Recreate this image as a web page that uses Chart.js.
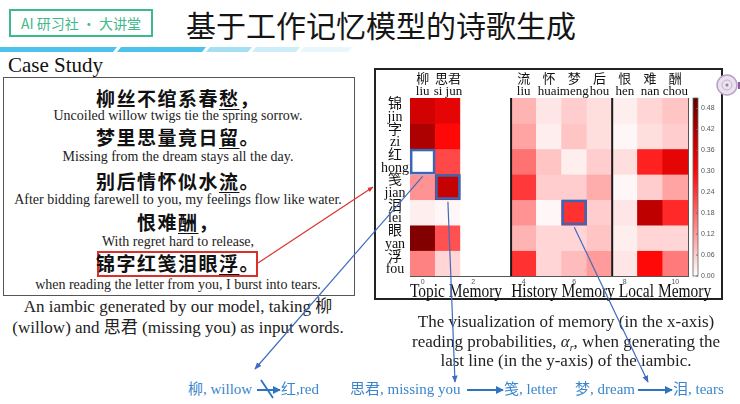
<!DOCTYPE html>
<html lang="zh">
<head>
<meta charset="UTF-8">
<title>基于工作记忆模型的诗歌生成</title>
<script src="https://cdn.jsdelivr.net/npm/chart.js"></script>
<style>
  body { margin: 0; }
  #slide { position: relative; width: 740px; height: 404px; background: #fff; overflow: hidden;
           font-family: 'Liberation Serif', 'Noto Sans CJK SC', serif; color: #222; }
  .c { position: absolute; width: 440px; text-align: center; white-space: nowrap; }
  .l { position: absolute; white-space: nowrap; }
  .cn { font: 700 19px/22px 'Noto Sans CJK SC', sans-serif; letter-spacing: 1.5px; color: #111; }
  .en { font-size: 14px; line-height: 16px; }
  .cap { font-size: 17px; line-height: 19px; }
  .blue { font-size: 15px; line-height: 18px; color: #3a86cc; }
  .grp { font-size: 18px; line-height: 20px; transform: scaleX(0.86); color: #111; }
  u { text-decoration-thickness: 1px; text-underline-offset: 3px; }
  #heat { position: absolute; left: 376px; top: 70px; }
  svg { position: absolute; left: 0; top: 0; }
</style>
</head>
<body>
<div id="slide">
  <!-- header -->
  <div class="l" style="left:9px;top:9px;width:144px;height:28px;box-sizing:border-box;border:2px solid #3fb88c;
       font:14px/24px 'Noto Sans CJK SC',sans-serif;color:#3fb88c;text-align:center;">AI 研习社 · 大讲堂</div>
  <div class="l" style="left:186px;top:4px;font:30px/40px 'Noto Sans CJK SC',sans-serif;color:#151515;">基于工作记忆模型的诗歌生成</div>
  <div class="l" style="left:8px;top:54px;font-size:21px;line-height:22px;color:#111;">Case Study</div>

  <!-- poem box -->
  <div class="l" style="left:3px;top:77px;width:352px;height:219px;box-sizing:border-box;border:1.5px solid #555;"></div>
  <div class="c cn" style="left:-42px;top:87px;">柳丝不绾系春<u>愁</u>，</div>
  <div class="c en" style="left:-42px;top:108px;">Uncoiled willow twigs tie the spring sorrow.</div>
  <div class="c cn" style="left:-42px;top:126px;">梦里思量竟日<u>留</u>。</div>
  <div class="c en" style="left:-42px;top:149px;">Missing from the dream stays all the day.</div>
  <div class="c cn" style="left:-42px;top:170px;">别后情怀似水<u>流</u>。</div>
  <div class="c en" style="left:-42px;top:192px;">After bidding farewell to you, my feelings flow like water.</div>
  <div class="c cn" style="left:-42px;top:211px;">恨难<u>酬</u>，</div>
  <div class="c en" style="left:-42px;top:234px;">With regret hard to release,</div>
  <div class="l" style="left:97px;top:251px;width:161px;height:26px;box-sizing:border-box;border:2px solid #d9302c;"></div>
  <div class="c cn" style="left:-42px;top:252px;">锦字红笺泪眼<u>浮</u>。</div>
  <div class="c en" style="left:-42px;top:277px;">when reading the letter from you, I burst into tears.</div>
  <div class="c cap" style="left:-42px;top:297px;">An iambic generated by our model, taking 柳</div>
  <div class="c cap" style="left:-42px;top:318px;">(willow) and 思君 (missing you) as input words.</div>

  <!-- heatmap box -->
  <div class="l" style="left:374px;top:68px;width:349px;height:232px;box-sizing:border-box;border:2px solid #222;"></div>
  <canvas id="heat" width="346" height="229"></canvas>
  <div class="c grp" style="left:236px;top:281px;">Topic Memory</div>
  <div class="c grp" style="left:343px;top:281px;">History Memory</div>
  <div class="c grp" style="left:445px;top:281px;">Local Memory</div>

  <div class="c cap" style="left:346px;top:312px;">The visualization of memory (in the x-axis)</div>
  <div class="c cap" style="left:346px;top:332px;">reading probabilities, <i>α<sub style="font-size:10px">r</sub></i>, when generating the</div>
  <div class="c cap" style="left:346px;top:351px;">last line (in the y-axis) of the iambic.</div>

  <div class="l blue" style="left:188px;top:380px;">柳, willow</div>
  <div class="l blue" style="left:281px;top:380px;">红,red</div>
  <div class="l blue" style="left:350px;top:380px;">思君, missing you</div>
  <div class="l blue" style="left:504px;top:380px;">笺, letter</div>
  <div class="l blue" style="left:575px;top:380px;">梦, dream</div>
  <div class="l blue" style="left:673px;top:380px;">泪, tears</div>

  <svg width="740" height="404">
    <defs>
      <marker id="ab" viewBox="0 0 10 10" refX="9" refY="5" markerWidth="6" markerHeight="6" orient="auto">
        <path d="M0,1 L10,5 L0,9 z" fill="#3f6cc0"/>
      </marker>
      <marker id="ab2" viewBox="0 0 10 10" refX="9" refY="5" markerWidth="4" markerHeight="4" orient="auto">
        <path d="M0,0 L10,5 L0,10 z" fill="#2e74c0"/>
      </marker>
      <marker id="ar" viewBox="0 0 10 10" refX="9" refY="5" markerWidth="5" markerHeight="5" orient="auto">
        <path d="M0,1 L10,5 L0,9 z" fill="#e03030"/>
      </marker>
    </defs>
    <!-- stripe -->
    <polygon points="0,47 117,47 113,52 0,52" fill="#4cc2ec"/>
    <polygon points="121,47 206,47 202,52 117,52" fill="#4cc2ec"/>
    <polygon points="210,47 252,47 248,52 206,52" fill="#a6def4"/>
    <polygon points="256,47 300,47 296,52 252,52" fill="#cdeef9"/>
    <polygon points="304,47 352,47 348,52 300,52" fill="#e8f7fc"/>
    <!-- logo -->
    <circle cx="727" cy="85" r="10" fill="#ece2ee" stroke="#b9a2c4" stroke-width="1.5"/>
    <circle cx="727" cy="85" r="5" fill="none" stroke="#c4b0cc" stroke-width="1"/>
    <circle cx="727" cy="85" r="1.5" fill="#9a7aa8"/>
    <rect x="738" y="82" width="2" height="7" fill="#8a5aa0"/>
    <!-- connectors -->
    <line id="redLink" x1="258" y1="263" x2="373" y2="188" stroke="#e03030" stroke-width="1.2" marker-end="url(#ar)"/>
    <line id="link0" x1="423" y1="177" x2="255" y2="369" stroke="#3f6cc0" stroke-width="1.2" marker-end="url(#ab)"/>
    <line id="link1" x1="449" y1="200" x2="455" y2="382" stroke="#3f6cc0" stroke-width="1.2" marker-end="url(#ab)"/>
    <line id="link2" x1="577" y1="225" x2="648" y2="382" stroke="#3f6cc0" stroke-width="1.2" marker-end="url(#ab)"/>
    <line x1="257" y1="390" x2="280" y2="390" stroke="#2e74c0" stroke-width="2" marker-end="url(#ab2)"/>
    <line x1="261" y1="380" x2="273" y2="398" stroke="#2e74c0" stroke-width="1.8"/>
    <line x1="467" y1="390" x2="503" y2="390" stroke="#2e74c0" stroke-width="2" marker-end="url(#ab2)"/>
    <line x1="638" y1="390" x2="672" y2="390" stroke="#2e74c0" stroke-width="2" marker-end="url(#ab2)"/>
  </svg>
</div>

<script>
// rows = characters of the last line, columns = memory slots
const rowHanzi = ['锦', '字', '红', '笺', '泪', '眼', '浮'];
const rowPinyin = ['jin', 'zi', 'hong', 'jian', 'lei', 'yan', 'fou'];
const colIndex = ['0', '1', '2', '3', '4', '5', '6', '7', '8', '9', '10'];
const colTop = [['柳', 'liu'], ['思君', 'si jun'], '', '', ['流', 'liu'], ['怀', 'huai'], ['梦', 'meng'],
                ['后', 'hou'], ['恨', 'hen'], ['难', 'nan'], ['酬', 'chou']];

// reading probabilities per row (cols 0-3)
const topicMem = [
  [0.37, 0.34, 0, 0],
  [0.42, 0.30, 0, 0],
  [0.00, 0.22, 0, 0],
  [0.13, 0.39, 0, 0],
  [0.02, 0.01, 0, 0],
  [0.47, 0.21, 0, 0],
  [0.15, 0.05, 0, 0]
];
// cols 4-7
const historyMem = [
  [0.09, 0.03, 0.06, 0.04],
  [0.11, 0.02, 0.07, 0.04],
  [0.17, 0.07, 0.02, 0.06],
  [0.24, 0.06, 0.06, 0.10],
  [0.13, 0.01, 0.25, 0.06],
  [0.09, 0.05, 0.05, 0.07],
  [0.25, 0.05, 0.08, 0.12]
];
// cols 8-10
const localMem = [
  [0.02, 0.05, 0.07],
  [0.01, 0.04, 0.06],
  [0.04, 0.27, 0.34],
  [0.01, 0.06, 0.11],
  [0.03, 0.40, 0.26],
  [0.02, 0.05, 0.05],
  [0.03, 0.30, 0.16]
];
const cbTicks = [0, 0.06, 0.12, 0.18, 0.24, 0.30, 0.36, 0.42, 0.48];
const separators = [3, 7];
const highlights = [[0, 2], [1, 3], [6, 4]]; // [col, row]

const cmap = [[0, [255, 255, 255]], [0.15, [255, 130, 130]], [0.30, [255, 8, 8]], [0.40, [190, 0, 0]], [0.51, [95, 0, 0]]];
function colour(v) {
  for (let i = 1; i < cmap.length; i++) {
    if (v <= cmap[i][0] || i === cmap.length - 1) {
      const [v0, c0] = cmap[i - 1], [v1, c1] = cmap[i];
      const t = Math.max(0, Math.min(1, (v - v0) / (v1 - v0)));
      const c = c0.map((a, k) => Math.round(a + (c1[k] - a) * t));
      return `rgb(${c[0]},${c[1]},${c[2]})`;
    }
  }
}

const rows = rowHanzi.map((_, r) => [...topicMem[r], ...historyMem[r], ...localMem[r]]);
const rowTicks = s => { s.ticks = rowHanzi.map((_, i) => ({ value: i })); };

const heatDecor = {
  id: 'heatDecor',
  afterDatasetsDraw(chart) {
    const { ctx, chartArea: a, scales: { x, y, y2 } } = chart;
    const half = (x.getPixelForValue(1) - x.getPixelForValue(0)) / 2;
    ctx.save();
    ctx.strokeStyle = '#1a1a1a';
    ctx.lineWidth = 2;
    separators.forEach(s => {
      const px = x.getPixelForValue(s) + half;
      ctx.beginPath(); ctx.moveTo(px, a.top); ctx.lineTo(px, a.bottom); ctx.stroke();
    });
    ctx.strokeStyle = '#3b66b5';
    ctx.lineWidth = 2.5;
    highlights.forEach(([c, r]) => {
      const cx = x.getPixelForValue(c);
      const t = y.getPixelForValue(r - 0.5), b = y.getPixelForValue(r + 0.5);
      ctx.strokeRect(cx - half + 1.2, t + 1.2, 2 * half - 2.4, b - t - 2.4);
    });
    // colour bar
    const l = a.right + 5, w = 5;
    const top = y2.getPixelForValue(y2.max), bot = y2.getPixelForValue(0);
    for (let p = bot; p > top; p -= 1) {
      ctx.fillStyle = colour(y2.getValueForPixel(p - 0.5));
      ctx.fillRect(l, p - 1, w, 1.2);
    }
    ctx.strokeStyle = '#666';
    ctx.lineWidth = 0.8;
    ctx.strokeRect(l, top, w, bot - top);
    cbTicks.forEach(v => {
      const py = y2.getPixelForValue(v);
      ctx.beginPath(); ctx.moveTo(l + w, py); ctx.lineTo(l + w - 2, py); ctx.stroke();
    });
    ctx.restore();
  }
};

const small = { size: 7, family: "'Liberation Sans', sans-serif" };
const noGrid = { display: false, drawTicks: false };
const chart = new Chart(document.getElementById('heat'), {
  type: 'bar',
  data: {
    labels: colIndex,
    datasets: rows.map((vals, r) => ({
      data: vals.map(() => [r - 0.5, r + 0.5]),
      backgroundColor: vals.map(colour),
      borderWidth: 0,
      grouped: false,
      barPercentage: 1,
      categoryPercentage: 1
    }))
  },
  options: {
    responsive: false,
    animation: false,
    layout: { padding: 0 },
    plugins: { legend: { display: false }, tooltip: { enabled: false } },
    scales: {
      x: {
        z: 1,
        grid: noGrid,
        border: { color: '#555', width: 1 },
        ticks: { font: small, color: '#555', padding: 2, maxRotation: 0, autoSkip: false,
                 callback: (v, i) => (i % 2 ? '' : colIndex[i]) },
        afterFit: s => { s.height = 23; }
      },
      xTop: {
        type: 'category', labels: colTop, position: 'top', offset: true, z: 1,
        grid: noGrid,
        border: { color: '#555', width: 1 },
        ticks: { font: { size: 13, family: "'Liberation Serif', 'Noto Sans CJK SC', serif", lineHeight: 0.92 },
                 color: '#111', padding: 0, maxRotation: 0, autoSkip: false },
        afterFit: s => { s.height = 28; }
      },
      y: {
        min: -0.5, max: 6.5, reverse: true, position: 'left', weight: 0, z: 1,
        grid: noGrid,
        border: { color: '#555', width: 1 },
        ticks: { font: { size: 6.5, family: "'Liberation Sans', sans-serif" }, color: '#555', padding: 1 },
        afterBuildTicks: rowTicks,
        afterFit: s => { s.width = 0; }
      },
      yLab: {
        type: 'linear', min: -0.5, max: 6.5, reverse: true, position: 'left', weight: 1,
        grid: noGrid,
        border: { display: false },
        ticks: { font: { size: 14, family: "'Liberation Serif', 'Noto Sans CJK SC', serif", lineHeight: 0.9 },
                 color: '#111', padding: 1, crossAlign: 'center',
                 callback: v => [rowHanzi[v], rowPinyin[v]] },
        afterBuildTicks: rowTicks,
        afterFit: s => { s.width = 34; }
      },
      y2: {
        type: 'linear', min: 0, max: 0.51, position: 'right', z: 1,
        grid: noGrid,
        border: { color: '#555', width: 1 },
        ticks: { font: small, color: '#555', padding: 13, callback: v => v.toFixed(2) },
        afterBuildTicks: s => { s.ticks = cbTicks.map(v => ({ value: v })); },
        afterFit: s => { s.width = 34; }
      }
    }
  },
  plugins: [heatDecor]
});

// hook the connector lines onto the highlighted cells
const ox = 376, oy = 70;
['link0', 'link1', 'link2'].forEach((id, k) => {
  const [c, r] = highlights[k];
  const el = document.getElementById(id);
  el.setAttribute('x1', ox + chart.scales.x.getPixelForValue(c));
  el.setAttribute('y1', oy + chart.scales.y.getPixelForValue(r + 0.5) + 2);
});
document.getElementById('redLink').setAttribute('y2', oy + chart.scales.y.getPixelForValue(3));
</script>
</body>
</html>
